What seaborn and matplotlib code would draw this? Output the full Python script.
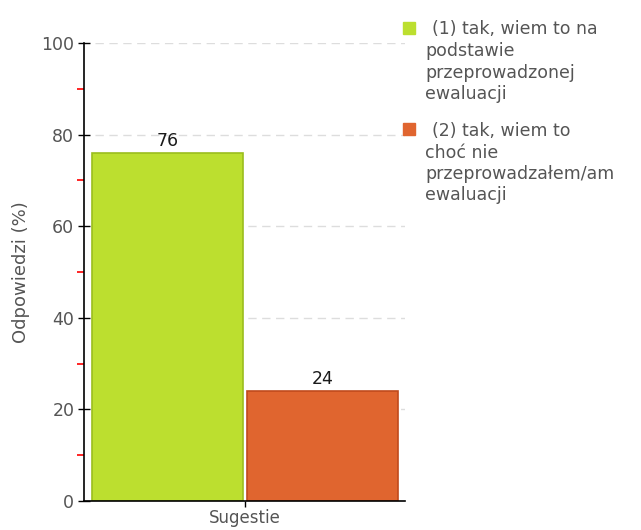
import matplotlib
matplotlib.use("Agg")
import matplotlib.pyplot as plt
from matplotlib.patches import Rectangle
from matplotlib.ticker import MultipleLocator
import seaborn as sns
import pandas as pd

categories = ["Sugestie", "Sugestie"]
series = ["(1) tak, wiem to na\npodstawie\nprzeprowadzonej\newaluacji",
          "(2) tak, wiem to\nchoć nie\nprzeprowadzałem/am\newaluacji"]
values = [76, 24]
colors = ["#BCDF2F", "#E0652F"]
edges = ["#9BBE1E", "#C04A1C"]
yticks = [0, 20, 40, 60, 80, 100]

sns.set_theme(style="white")
plt.rcParams['font.family'] = ['DejaVu Sans']

df = pd.DataFrame({"cat": categories, "series": series, "val": values})

W, H = 641, 530
fig = plt.figure(figsize=(W / 100, H / 100), dpi=100)
ax = fig.add_axes([84 / W, 29 / H, 321 / W, 458 / H])

sns.barplot(data=df, x="cat", y="val", hue="series", palette=colors,
            saturation=1, width=0.8, gap=0.03, legend=False, ax=ax)
for p, ec in zip(ax.patches, edges):
    p.set_edgecolor(ec)
    p.set_linewidth(1.2)

ax.set_ylim(0, 100)
ax.set_xlim(-0.4155, 0.4125)
ax.set_yticks(yticks)
ax.yaxis.set_minor_locator(MultipleLocator(10))
ax.tick_params(axis="y", which="major", direction="inout", length=8, width=1,
               color="black", labelsize=12.5, labelcolor="#555555", left=True, pad=3)
ax.tick_params(axis="y", which="minor", direction="out", length=5, width=1.2,
               color="red", left=True)
ax.tick_params(axis="x", direction="out", length=4, width=1, color="black",
               labelsize=12, labelcolor="#555555", bottom=True, pad=1.5)
for y in yticks[1:]:
    ax.axhline(y, xmin=0.035, xmax=1, color="#DDDDDD", lw=1, ls=(0, (6, 4)), zorder=0)

for s in ["top", "right"]:
    ax.spines[s].set_visible(False)
for s in ["left", "bottom"]:
    ax.spines[s].set_color("black")
    ax.spines[s].set_linewidth(1.2)

ax.set_xlabel("")
ax.set_ylabel("Odpowiedzi (%)", color="#555555", fontsize=13, labelpad=8)

for p, v in zip(ax.patches, values):
    ax.text(p.get_x() + p.get_width() / 2, v + 0.6, f"{v}", ha="center",
            va="bottom", fontsize=12.5, color="#1a1a1a")

# legend (manual, handle aligned to first line)
first_centers = [27.5, 129]
pitch = 21.5
for lab, col, yc in zip(series, colors, first_centers):
    fig.patches.append(Rectangle((403 / W, 1 - (yc + 6) / H), 12 / W, 12 / H,
                                 transform=fig.transFigure, facecolor=col,
                                 edgecolor=col, figure=fig))
    for i, line in enumerate(lab.split("\n")):
        x0 = 432 if i == 0 else 425
        fig.text(x0 / W, 1 - (yc + i * pitch) / H, line, fontsize=12.5,
                 color="#555555", va="center_baseline", ha="left")

fig.savefig("out.png", dpi=100)
